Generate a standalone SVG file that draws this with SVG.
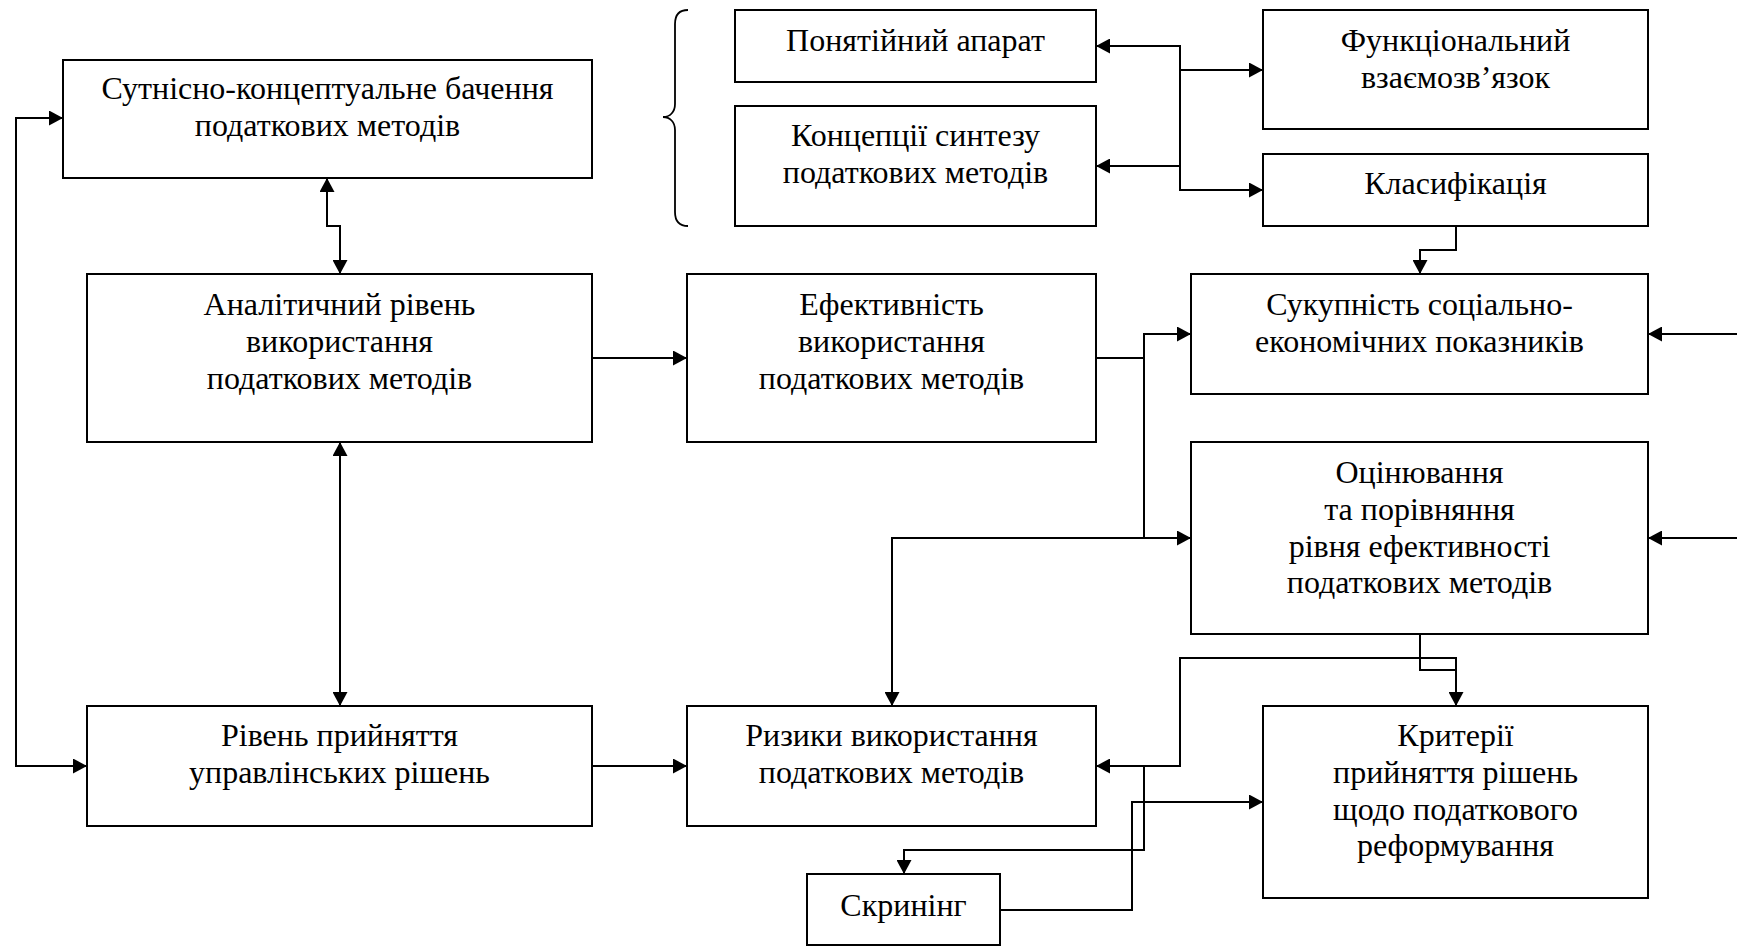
<svg xmlns="http://www.w3.org/2000/svg" width="1737" height="946" viewBox="0 0 1737 946">
  <style>
    .box { fill: #ffffff; stroke: #000000; stroke-width: 2; }
    .lbl { font-family: "Liberation Serif", "Times New Roman", serif; font-size: 32px; fill: #000000; text-anchor: middle; }
    .wire { fill: none; stroke: #000000; stroke-width: 2; }
    .one { marker-end: url(#arrow); }
    .two { marker-start: url(#arrow); marker-end: url(#arrow); }
    .brace { fill: none; stroke: #000000; stroke-width: 1.8; }
  </style>
  <defs>
    <marker id="arrow" markerUnits="userSpaceOnUse" viewBox="0 0 14 15" markerWidth="14" markerHeight="15" refX="14" refY="7.5" orient="auto-start-reverse">
      <path d="M0,0 L14,7.5 L0,15 Z" fill="#000000"/>
    </marker>
  </defs>
  <rect width="1737" height="946" fill="#ffffff"/>

  <!-- connectors -->
  <g id="connectors">
    <path class="wire two" d="M63,118 H16 V766 H87"/>
    <path class="wire two" d="M327,178 V226 H340 V274"/>
    <path class="wire two" d="M340,442 V706"/>
    <path class="wire one" d="M592,358 H687"/>
    <path class="wire one" d="M592,766 H687"/>
    <path class="wire two" d="M1096,46 H1180 V190 H1263"/>
    <path class="wire one" d="M1180,70 H1263"/>
    <path class="wire one" d="M1180,166 H1096"/>
    <path class="wire one" d="M1456,226 V250 H1420 V274"/>
    <path class="wire one" d="M1737,334 H1648"/>
    <path class="wire one" d="M1737,538 H1648"/>
    <path class="wire" d="M1096,358 H1144"/>
    <path class="wire one" d="M1144,538 V334 H1191"/>
    <path class="wire two" d="M892,706 V538 H1191"/>
    <path class="wire" d="M1420,634 V670 H1456"/>
    <path class="wire two" d="M1096,766 H1180 V658 H1456 V706"/>
    <path class="wire one" d="M1144,766 V850 H904 V874"/>
    <path class="wire one" d="M1000,910 H1132 V802 H1263"/>
    <path class="brace" d="M688,10 C680,10 675,14 675,24 V104 C675,112 670,117 663,117 C670,117 675,122 675,130 V212 C675,222 680,226 688,226"/>
  </g>

  <g id="essence">
    <rect class="box" x="63" y="60" width="529" height="118"/>
    <text class="lbl" x="327.5" y="99">Сутнісно-концептуальне бачення</text>
    <text class="lbl" x="327.5" y="136">податкових методів</text>
  </g>
  <g id="concepts-apparatus">
    <rect class="box" x="735" y="10" width="361" height="72"/>
    <text class="lbl" x="915.5" y="51">Понятійний апарат</text>
  </g>
  <g id="synthesis">
    <rect class="box" x="735" y="106" width="361" height="120"/>
    <text class="lbl" x="915.5" y="146">Концепції синтезу</text>
    <text class="lbl" x="915.5" y="183">податкових методів</text>
  </g>
  <g id="functional">
    <rect class="box" x="1263" y="10" width="385" height="119"/>
    <text class="lbl" x="1455.5" y="51">Функціональний</text>
    <text class="lbl" x="1455.5" y="88">взаємозв’язок</text>
  </g>
  <g id="classification">
    <rect class="box" x="1263" y="154" width="385" height="72"/>
    <text class="lbl" x="1455.5" y="194">Класифікація</text>
  </g>
  <g id="analytic">
    <rect class="box" x="87" y="274" width="505" height="168"/>
    <text class="lbl" x="339.5" y="315">Аналітичний рівень</text>
    <text class="lbl" x="339.5" y="352">використання</text>
    <text class="lbl" x="339.5" y="389">податкових методів</text>
  </g>
  <g id="efficiency">
    <rect class="box" x="687" y="274" width="409" height="168"/>
    <text class="lbl" x="891.5" y="315">Ефективність</text>
    <text class="lbl" x="891.5" y="352">використання</text>
    <text class="lbl" x="891.5" y="389">податкових методів</text>
  </g>
  <g id="indicators">
    <rect class="box" x="1191" y="274" width="457" height="120"/>
    <text class="lbl" x="1419.5" y="315">Сукупність соціально-</text>
    <text class="lbl" x="1419.5" y="352">економічних показників</text>
  </g>
  <g id="evaluation">
    <rect class="box" x="1191" y="442" width="457" height="192"/>
    <text class="lbl" x="1419.5" y="483">Оцінювання</text>
    <text class="lbl" x="1419.5" y="520">та порівняння</text>
    <text class="lbl" x="1419.5" y="557">рівня ефективності</text>
    <text class="lbl" x="1419.5" y="593">податкових методів</text>
  </g>
  <g id="decisions">
    <rect class="box" x="87" y="706" width="505" height="120"/>
    <text class="lbl" x="339.5" y="746">Рівень прийняття</text>
    <text class="lbl" x="339.5" y="783">управлінських рішень</text>
  </g>
  <g id="risks">
    <rect class="box" x="687" y="706" width="409" height="120"/>
    <text class="lbl" x="891.5" y="746">Ризики використання</text>
    <text class="lbl" x="891.5" y="783">податкових методів</text>
  </g>
  <g id="criteria">
    <rect class="box" x="1263" y="706" width="385" height="192"/>
    <text class="lbl" x="1455.5" y="746">Критерії</text>
    <text class="lbl" x="1455.5" y="783">прийняття рішень</text>
    <text class="lbl" x="1455.5" y="820">щодо податкового</text>
    <text class="lbl" x="1455.5" y="856">реформування</text>
  </g>
  <g id="screening">
    <rect class="box" x="807" y="874" width="193" height="71"/>
    <text class="lbl" x="903.5" y="916">Скринінг</text>
  </g>
</svg>
